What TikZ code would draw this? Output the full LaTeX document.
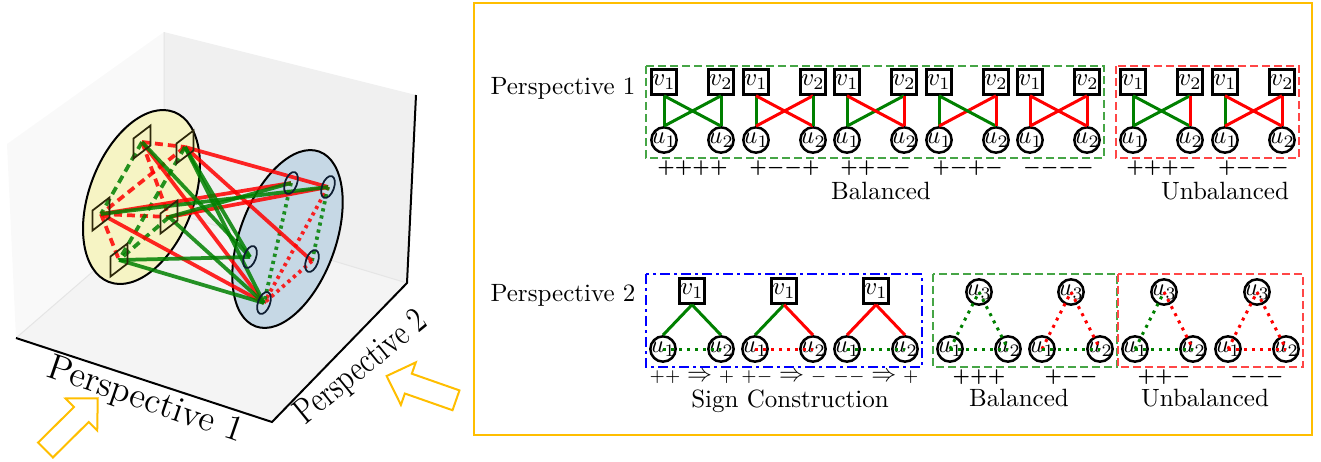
\documentclass[tikz,border=0pt]{standalone}
\usepackage{amsmath}
\usepackage{amssymb}
\usepackage{tikz}
\usepackage{xcolor}
\usetikzlibrary{calc}

\definecolor{posgreen}{RGB}{0,128,0}
\definecolor{negred}{RGB}{255,0,0}
\definecolor{framegold}{RGB}{255,190,0}
\definecolor{balgreen}{RGB}{70,165,70}
\definecolor{unbred}{RGB}{255,70,70}
\definecolor{paneyellow}{RGB}{246,244,196}
\definecolor{paneblue}{RGB}{198,216,229}
\definecolor{sqedge}{RGB}{45,40,10}
\definecolor{ovedge}{RGB}{15,30,50}

\tikzset{
  vbox/.style={draw, line width=1pt, minimum size=10pt, inner sep=0pt},
  ucirc/.style={draw, circle, line width=1pt, minimum size=10pt, inner sep=-0.6pt},
  edge/.style={line width=1.2pt},
  dotedge/.style={line width=1.2pt, dash pattern=on 1.2pt off 2pt},
  sign/.style={font=\scriptsize\boldmath, inner sep=0pt},
  rule/.style={font=\scriptsize, inner sep=0pt},
  caption/.style={inner sep=0pt},
  link/.style={line width=1.5pt, opacity=0.85},
  dashlink/.style={line width=1.5pt, opacity=0.85, dash pattern=on 3.2pt off 2pt},
  dotlink/.style={line width=1.5pt, opacity=0.85, dash pattern=on 1.3pt off 1.6pt},
  sqmark/.style={draw=sqedge, line width=0.7pt},
  ovmark/.style={draw=ovedge, line width=0.7pt},
  hollow/.style={draw=framegold, line width=0.8pt, line join=miter},
  boxdash/.style={line width=0.8pt, dash pattern=on 3.2pt off 1.6pt},
}

\begin{document}
\begin{tikzpicture}[x=0.4pt,y=-0.4pt]
\useasboundingbox (0,0) rectangle (1321,461);

% 3d box
\fill[gray!5] (7,144) -- (164,32) -- (164,210) -- (16,338) -- cycle;
\fill[gray!12] (164,32) -- (416,95) -- (407,283) -- (164,210) -- cycle;
\fill[gray!9] (16,338) -- (164,210) -- (407,283) -- (272,422) -- cycle;
\draw[gray!20, line width=0.4pt] (16,338) -- (164,210) -- (407,283) (164,32) -- (164,210);
\draw[line width=0.8pt] (16,338) -- (272,422) -- (407,283) -- (416,95);

\coordinate (c1) at (141.5,197);
\coordinate (c2) at (287.5,239);
\filldraw[fill=paneyellow, line width=0.8pt, rotate around={69:(c1)}] (c1) ellipse[x radius=91, y radius=52];
\filldraw[fill=paneblue, line width=0.8pt, rotate around={70:(c2)}] (c2) ellipse[x radius=93, y radius=48];

\coordinate (pA) at (142,142);
\coordinate (pB) at (185,147);
\coordinate (pC) at (101,214);
\coordinate (pD) at (169,217);
\coordinate (pE) at (119,260);
\coordinate (qP) at (291,183);
\coordinate (qQ) at (328,187);
\coordinate (qR) at (250,257);
\coordinate (qS) at (312,261);
\coordinate (qT) at (264,303);

\foreach \a/\b in {pA/pB, pA/pD, pB/pC, pC/pD, pC/pE}
  \draw[dashlink, negred] (\a) -- (\b);
\foreach \a/\b in {pA/pC, pB/pE, pD/pE}
  \draw[dashlink, posgreen] (\a) -- (\b);
\foreach \a/\b in {qQ/qT, qS/qT}
  \draw[dotlink, negred] (\a) -- (\b);
\foreach \a/\b in {qP/qT, qQ/qS}
  \draw[dotlink, posgreen] (\a) -- (\b);

\foreach \a/\b in {pB/qQ, pB/qS, pA/qT, pC/qP, pC/qT, pD/qQ}
  \draw[link, negred] (\a) -- (\b);
\foreach \a/\b in {pB/qT, pB/qR, pA/qR, pC/qQ, pD/qP, pD/qT, pE/qR, pE/qT}
  \draw[link, posgreen] (\a) -- (\b);

\foreach \p in {pA,pB,pC,pD,pE}
  \draw[sqmark] (\p) ++(-8.5,-3.5) -- ++(0,20) -- ++(17,-13) -- ++(0,-20) -- cycle;
\foreach \p in {qP,qQ,qR,qS,qT}
  \draw[ovmark, rotate around={70:(\p)}] (\p) ellipse[x radius=11.5, y radius=6];

\node[font=\Large, rotate=-19] (axis1) at (145,401) {Perspective 1};
\node[font=\Large, rotate=39, xscale=0.78] (axis2) at (362,368) {Perspective 2};

\begin{scope}[shift={(45.5,450)}, rotate=44.7]
\draw[hollow] (0,-10.5) -- (50.5,-10.5) -- (50.5,-22.5) -- (73.5,0) -- (50.5,22.5) -- (50.5,10.5) -- (0,10.5) -- cycle;
\end{scope}
\begin{scope}[shift={(456,400.3)}, rotate=160.7]
\draw[hollow] (0,-10.5) -- (50.5,-10.5) -- (50.5,-22.5) -- (73.5,0) -- (50.5,22.5) -- (50.5,10.5) -- (0,10.5) -- cycle;
\end{scope}

% right panel
\draw[framegold, line width=0.8pt] (474,3) rectangle (1312,435);
\draw[boxdash, balgreen] (646,66) rectangle (1104,158);
\draw[boxdash, unbred] (1116,66) rectangle (1299,158);
\draw[blue, line width=1.1pt, dash pattern=on 4pt off 1.6pt on 1.2pt off 1.6pt] (646,274) rectangle (922,367);
\draw[boxdash, balgreen] (933,274) rectangle (1117,367);
\draw[boxdash, unbred] (1118,274) rectangle (1303,367);

\node[caption] (persp1) at (563,88) {Perspective 1};
\node[caption] (persp2) at (563,295) {Perspective 2};

\foreach \x/\ca/\cb/\cc/\cd/\sg [count=\i] in {
  664/posgreen/posgreen/posgreen/posgreen/{${+}{+}{+}{+}$},
  756/posgreen/negred/negred/posgreen/{${+}{-}{-}{+}$},
  847/posgreen/posgreen/negred/negred/{${+}{+}{-}{-}$},
  939/posgreen/negred/posgreen/negred/{${+}{-}{+}{-}$},
  1030/negred/negred/negred/negred/{${-}{-}{-}{-}$},
  1133/posgreen/posgreen/posgreen/negred/{${+}{+}{+}{-}$},
  1225/posgreen/negred/negred/negred/{${+}{-}{-}{-}$}}
{
  \node[vbox] (va\i) at (\x,82) {$v_1$};
  \node[vbox] (vb\i) at (\x+57,82) {$v_2$};
  \node[ucirc] (ua\i) at (\x,140) {$u_1$};
  \node[ucirc] (ub\i) at (\x+57,140) {$u_2$};
  \draw[edge, draw=\ca] (va\i.south) -- (ua\i.north);
  \draw[edge, draw=\cb] (vb\i.south) -- (ua\i.north);
  \draw[edge, draw=\cc] (va\i.south) -- (ub\i.north);
  \draw[edge, draw=\cd] (vb\i.south) -- (ub\i.north);
  \node[sign] (sa\i) at (\x+28.5,168) {\sg};
}
\node[caption] (bal1) at (881,191) {Balanced};
\node[caption] (unbal1) at (1225,191) {Unbalanced};

\foreach \x/\ca/\cb/\cc/\sg [count=\i] in {
  692/posgreen/posgreen/posgreen/{${+}{+}$ {\normalsize$\Rightarrow$} ${+}$},
  784/posgreen/negred/negred/{${+}{-}$ {\normalsize$\Rightarrow$} ${-}$},
  876/negred/negred/posgreen/{${-}{-}$ {\normalsize$\Rightarrow$} ${+}$}}
{
  \node[vbox] (wa\i) at (\x,291) {$v_1$};
  \node[ucirc] (xa\i) at (\x-29,349) {$u_1$};
  \node[ucirc] (xb\i) at (\x+29,349) {$u_2$};
  \draw[edge, draw=\ca] (wa\i.south) -- (xa\i.north);
  \draw[edge, draw=\cb] (wa\i.south) -- (xb\i.north);
  \draw[dotedge, draw=\cc] (xa\i.center) -- (xb\i.center);
  \node[rule] (sb\i) at (\x,377) {\sg};
}
\node[caption] (signc) at (790,401) {Sign Construction};

\foreach \x/\ca/\cb/\cc/\sg [count=\i] in {
  979/posgreen/posgreen/posgreen/{${+}{+}{+}$},
  1071/negred/negred/posgreen/{${+}{-}{-}$},
  1164/posgreen/negred/posgreen/{${+}{+}{-}$},
  1257/negred/negred/negred/{${-}{-}{-}$}}
{
  \node[ucirc] (ya\i) at (\x-29,349) {$u_1$};
  \node[ucirc] (yb\i) at (\x+29,349) {$u_2$};
  \node[ucirc] (yc\i) at (\x,292) {$u_3$};
  \draw[dotedge, draw=\ca] (ya\i.center) -- (yc\i.center);
  \draw[dotedge, draw=\cb] (yc\i.center) -- (yb\i.center);
  \draw[dotedge, draw=\cc] (ya\i.center) -- (yb\i.center);
  \node[sign] (sc\i) at (\x,377) {\sg};
}
\node[caption] (bal2) at (1019,398) {Balanced};
\node[caption] (unbal2) at (1205,398) {Unbalanced};
\end{tikzpicture}
\end{document}
